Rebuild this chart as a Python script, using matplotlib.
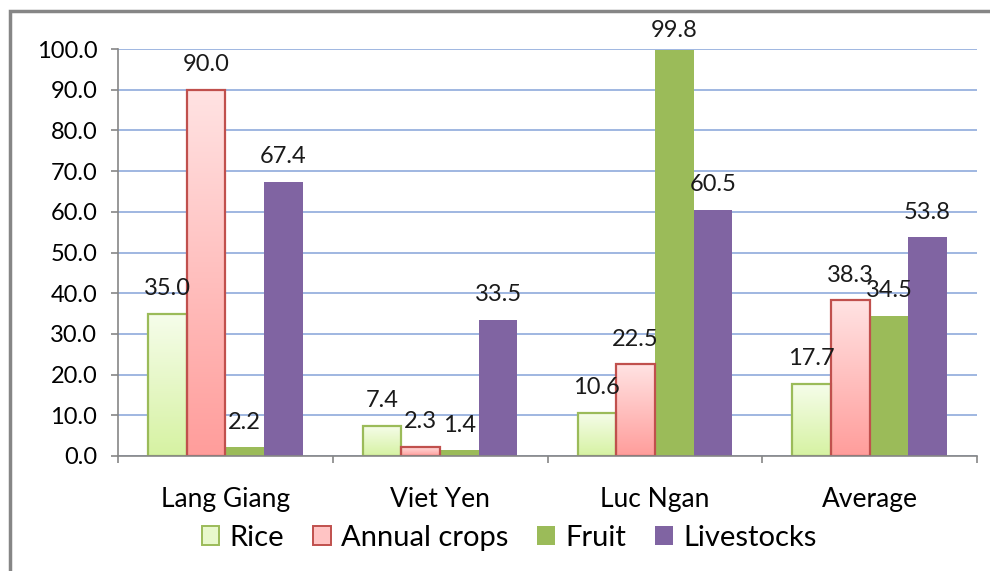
import matplotlib.pyplot as plt
import numpy as np
from matplotlib.patches import Rectangle, Patch
from matplotlib.colors import LinearSegmentedColormap
from matplotlib.ticker import FixedLocator

plt.rcParams['font.family'] = ['Lato', 'DejaVu Sans']

districts = ['Lang Giang', 'Viet Yen', 'Luc Ngan', 'Average']
series = ['Rice', 'Annual crops', 'Fruit', 'Livestocks']
rice = [35.0, 7.4, 10.6, 17.7]
annual_crops = [90.0, 2.3, 22.5, 38.3]
fruit = [2.2, 1.4, 99.8, 34.5]
livestocks = [67.4, 33.5, 60.5, 53.8]
values = [rice, annual_crops, fruit, livestocks]

# face (flat or gradient top->bottom) and edge colours per series
faces = [('#F6FDEB', '#D6F2A2'), ('#FFE3E3', '#FF9D9B'), '#9BBB59', '#8064A2']
edges = ['#9BBB59', '#C0504D', '#9BBB59', '#8064A2']

fig = plt.figure(figsize=(9.9, 5.71), dpi=100)
ax = fig.add_axes([118 / 990, 115 / 571, (977 - 118) / 990, (456 - 49) / 571])

x = np.arange(len(districts))
w = 0.18
for i, (vals, face, edge) in enumerate(zip(values, faces, edges)):
    pos = x + (i - 1.5) * w
    if isinstance(face, tuple):
        bars = ax.bar(pos, vals, w, color='none', edgecolor=edge, linewidth=1.6, zorder=4)
        cmap = LinearSegmentedColormap.from_list('g%d' % i, [face[0], face[1]])
        grad = np.linspace(0, 1, 256).reshape(-1, 1)
        for b in bars:
            bx, by = b.get_x(), b.get_y()
            im = ax.imshow(grad, cmap=cmap, aspect='auto', origin='upper',
                           extent=[bx, bx + b.get_width(), by, by + b.get_height()],
                           zorder=3)
            im.set_clip_path(b)
    else:
        bars = ax.bar(pos, vals, w, color=face, edgecolor='none', zorder=3)
    for px, v in zip(pos, vals):
        off = 14 if v > 95 else 18
        ax.annotate('%.1f' % v, (px, v), xytext=(0, off), textcoords='offset points',
                    ha='center', va='center', fontsize=17, color='#1a1a1a',
                    annotation_clip=False, zorder=6)

ax.set_xlim(-0.5, 3.5)
ax.set_ylim(0, 100)
ax.set_yticks(np.arange(0, 101, 10))
ax.set_yticklabels(['%.1f' % t for t in np.arange(0, 101, 10)], fontsize=17)
ax.set_xticks(x)
ax.set_xticklabels(districts, fontsize=19)
ax.tick_params(axis='x', which='major', length=0, pad=22)
ax.xaxis.set_minor_locator(FixedLocator(np.arange(-0.5, 4, 1)))
ax.tick_params(axis='x', which='minor', length=5, color='#868686', width=1.2)
ax.tick_params(axis='y', length=5, color='#868686', width=1.2, pad=10)

ax.grid(axis='y', color='#8FAADC', linewidth=1.2, zorder=0)
ax.set_axisbelow(True)
for s in ['top', 'right']:
    ax.spines[s].set_visible(False)
for s in ['left', 'bottom']:
    ax.spines[s].set_color('#868686')
    ax.spines[s].set_linewidth(1.2)
ax.spines['bottom'].set_zorder(5)

handles = [
    Patch(facecolor='#E8F8CC', edgecolor='#9BBB59', linewidth=1.4),
    Patch(facecolor='#FFC4C4', edgecolor='#C0504D', linewidth=1.4),
    Patch(facecolor='#9BBB59', edgecolor='none'),
    Patch(facecolor='#8064A2', edgecolor='none'),
]
fig.legend(handles, series, loc='center', bbox_to_anchor=(509 / 990, 1 - 538 / 571),
           ncol=4, frameon=False, fontsize=21, handlelength=0.6, handleheight=0.6,
           handletextpad=0.35, columnspacing=1.0)

# outer chart border
fig.add_artist(Rectangle((9.5 / 990, -0.1), 1.2, 1.1 - 10.5 / 571,
                         transform=fig.transFigure, fill=False,
                         edgecolor='#868686', linewidth=2.5))

fig.savefig('out.png', dpi=100)
